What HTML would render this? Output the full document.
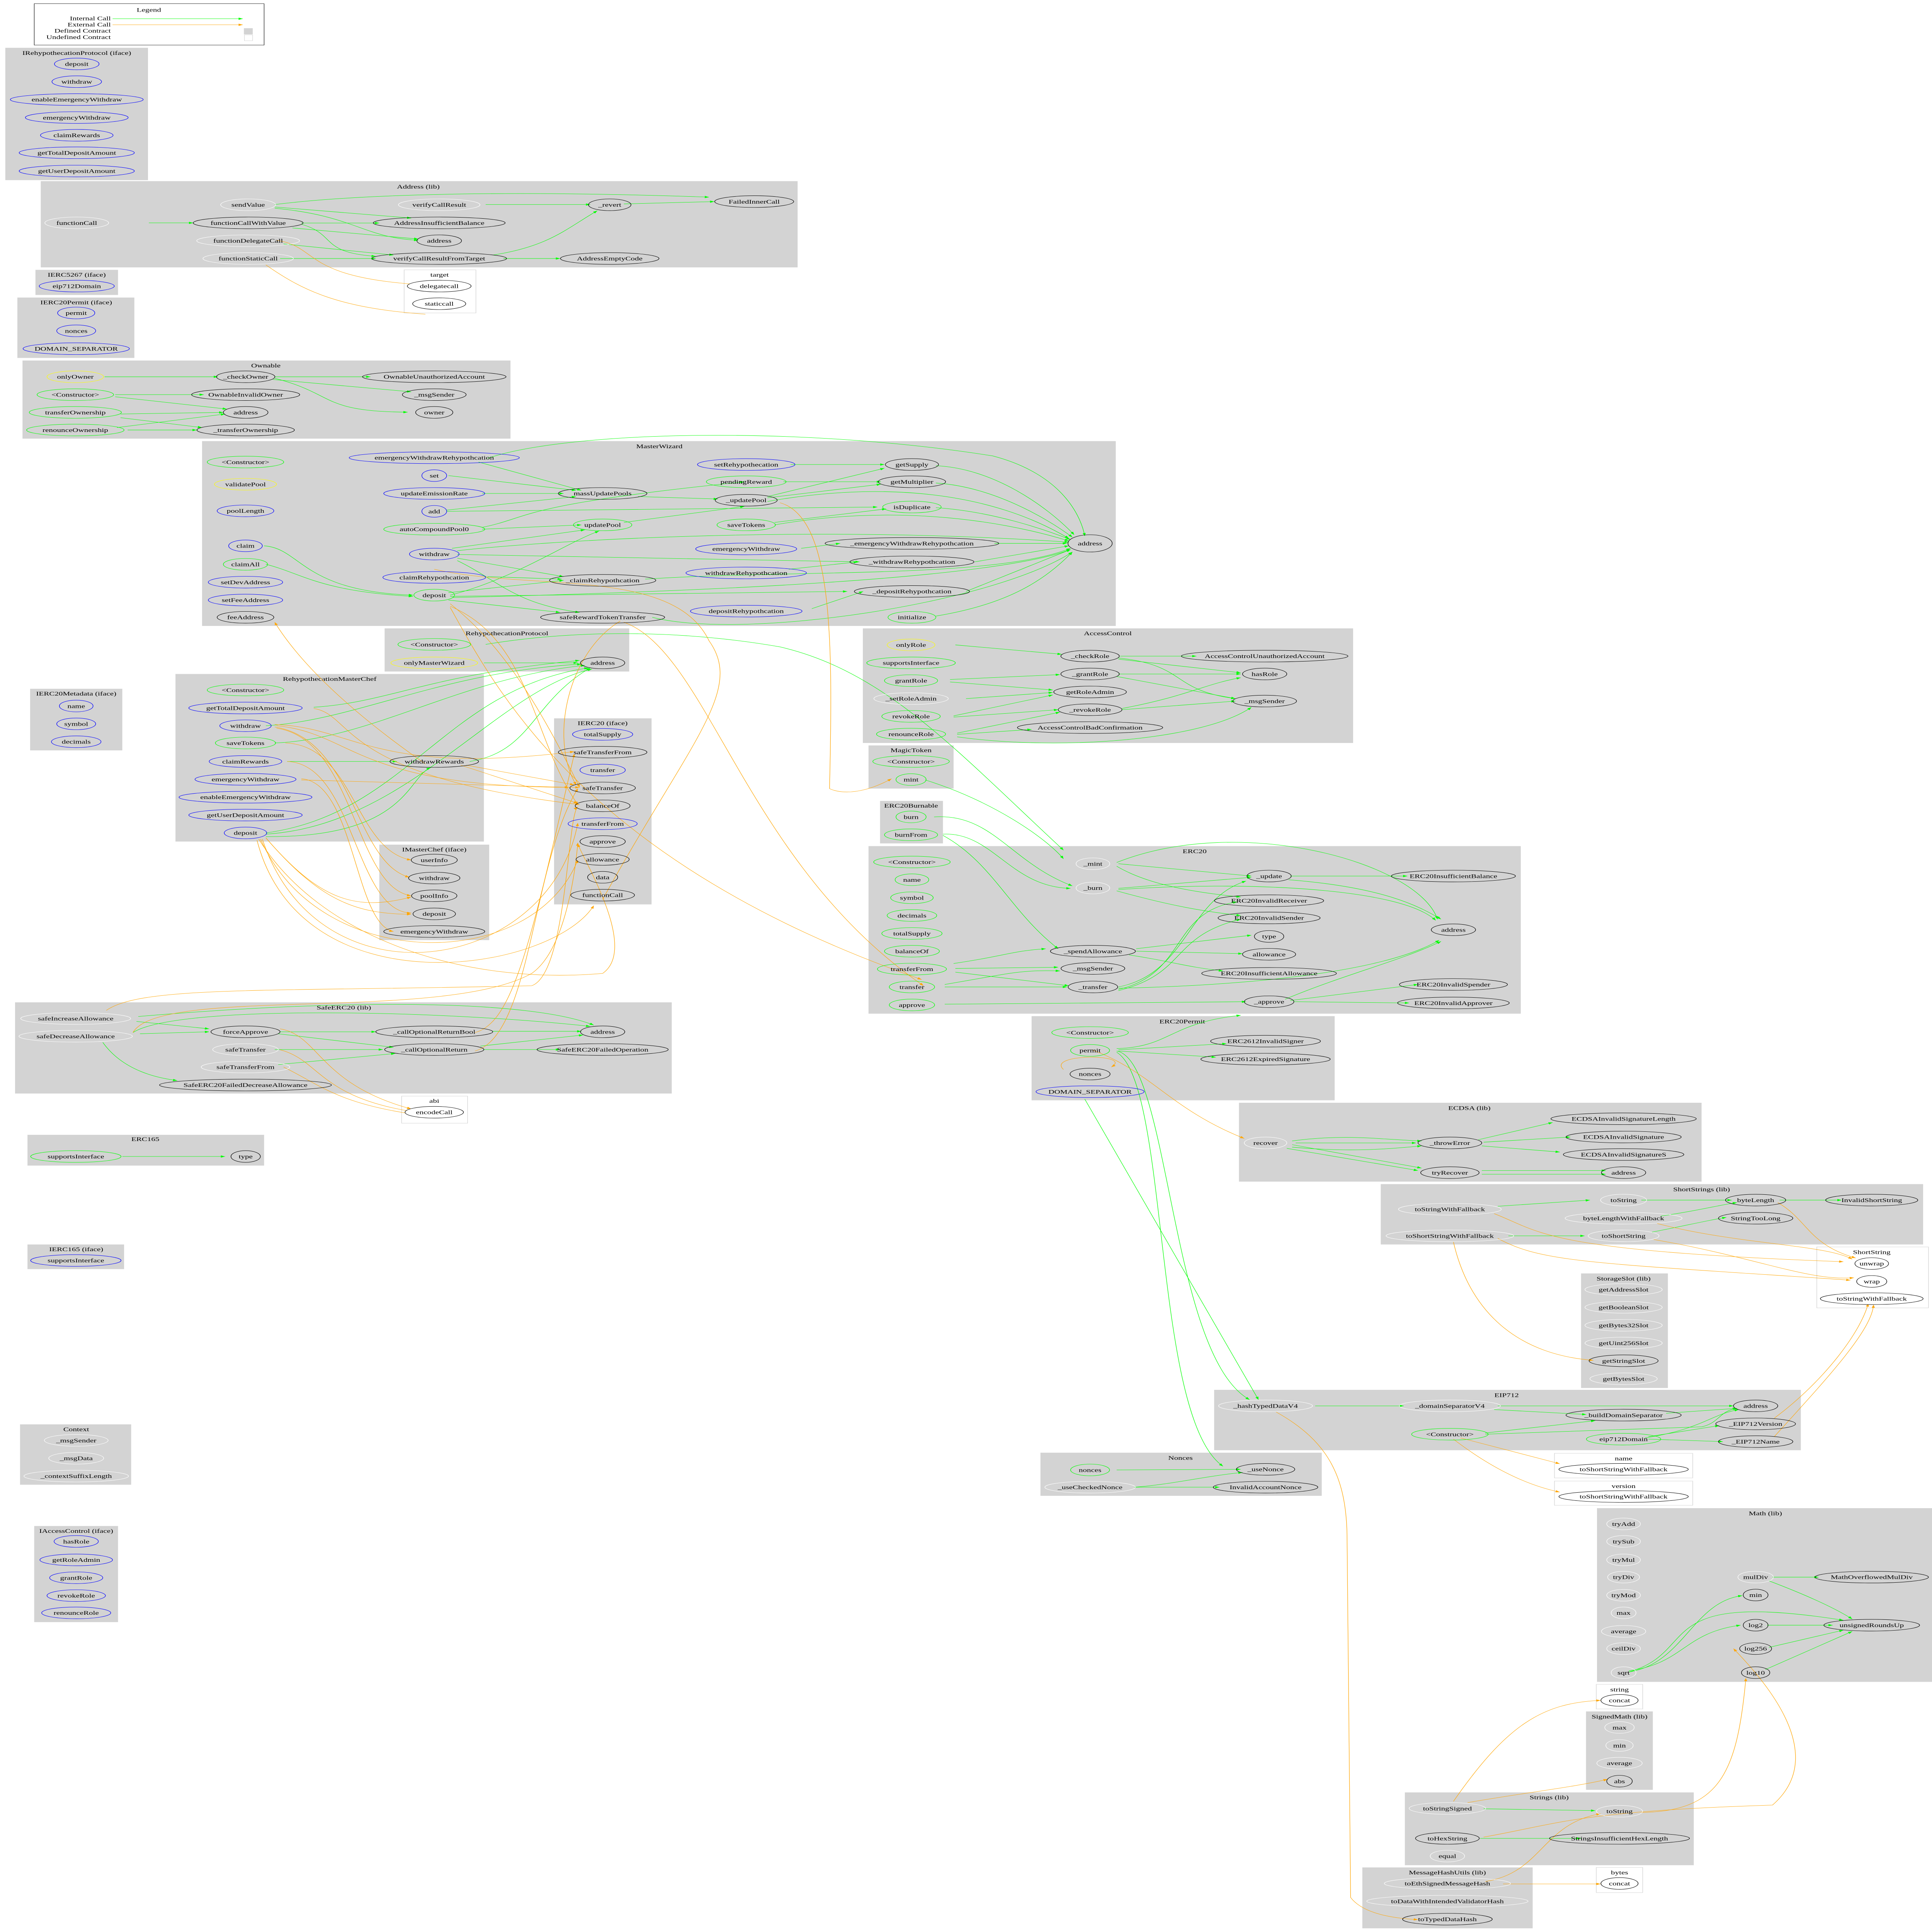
<!DOCTYPE html>
<html><head><meta charset="utf-8"><style>
html,body{margin:0;padding:0;background:#fff;width:100%;height:100%;overflow:hidden}
svg{display:block;position:fixed;left:0;top:0;width:100vw;height:100vh}
text{font-family:"Liberation Serif","DejaVu Serif",serif;font-size:4.6px;text-anchor:middle;fill:#000}
ellipse{stroke-width:.3;fill:none}
.k{stroke:#000}.b{stroke:#00f}.g{stroke:#0f0}.y{stroke:#ff0}.w{stroke:#fff}
.kw{stroke:#000;fill:#fff}
.cl{fill:#d3d3d3}
.uc{fill:#fff;stroke:#d3d3d3;stroke-width:.3}
path{fill:none;stroke-width:.28}
.eg{stroke:#0f0}.eo{stroke:#ffa500}
</style></head><body>
<svg viewBox="0 0 1090 1568" preserveAspectRatio="none" xmlns="http://www.w3.org/2000/svg">
<defs>
<marker id="ag" markerUnits="userSpaceOnUse" markerWidth="2.4" markerHeight="1.8" refX="2.4" refY=".9" orient="auto"><path d="M0,0L2.4,.9L0,1.8z" style="fill:#0f0;stroke:none"/></marker>
<marker id="ao" markerUnits="userSpaceOnUse" markerWidth="2.4" markerHeight="1.8" refX="2.4" refY=".9" orient="auto"><path d="M0,0L2.4,.9L0,1.8z" style="fill:#ffa500;stroke:none"/></marker>
</defs>
<rect width="1090" height="1568" fill="#fff"/>

<rect x="19.3" y="3" width="129.7" height="33.6" fill="#fff" stroke="#000" stroke-width=".25"/>
<text x="84" y="9.5">Legend</text>
<text x="62.5" y="16.5" style="text-anchor:end">Internal Call</text>
<text x="62.5" y="21.5" style="text-anchor:end">External Call</text>
<text x="62.5" y="26.5" style="text-anchor:end">Defined Contract</text>
<text x="62.5" y="31.7" style="text-anchor:end">Undefined Contract</text>
<path class="eg" d="M63.5,15.2L137,15.2" marker-end="url(#ag)"/>
<path class="eo" d="M63.5,20.1L137,20.1" marker-end="url(#ao)"/>
<rect x="137.6" y="22.9" width="5" height="5" fill="#d3d3d3"/>
<rect x="137.9" y="28.3" width="4.6" height="4.8" fill="#fff" stroke="#d3d3d3" stroke-width=".25"/>

<rect class="cl" x="3" y="38.8" width="80.5" height="107.4"/><text x="43.3" y="44.5">IRehypothecationProtocol  (iface)</text>
<rect class="cl" x="23" y="147" width="427" height="70"/><text x="236" y="153">Address  (lib)</text>
<rect class="uc" x="228" y="219" width="40.5" height="35"/><text x="248" y="224.5">target</text>
<rect class="cl" x="20" y="219" width="46.6" height="20.4"/><text x="43.3" y="224.5">IERC5267  (iface)</text>
<rect class="cl" x="9.8" y="241.5" width="66" height="49"/><text x="43" y="247">IERC20Permit  (iface)</text>
<rect class="cl" x="12.7" y="292.6" width="275.3" height="63.4"/><text x="150" y="298.3">Ownable</text>
<rect class="cl" x="114" y="358" width="515.5" height="150"/><text x="372" y="363.8">MasterWizard</text>
<rect class="cl" x="217" y="510" width="138" height="35"/><text x="286" y="515.5">RehypothecationProtocol</text>
<rect class="cl" x="486.8" y="510" width="276.6" height="93"/><text x="625" y="515.5">AccessControl</text>
<rect class="cl" x="17" y="559" width="52" height="50"/><text x="43" y="564.5">IERC20Metadata  (iface)</text>
<rect class="cl" x="99" y="547" width="174" height="136"/><text x="186" y="552.5">RehypothecationMasterChef</text>
<rect class="cl" x="312.6" y="583" width="55" height="151"/><text x="340" y="588.5">IERC20  (iface)</text>
<rect class="cl" x="490" y="605" width="48" height="35"/><text x="514" y="610.5">MagicToken</text>
<rect class="cl" x="496.5" y="650" width="35.5" height="34.5"/><text x="514" y="655.5">ERC20Burnable</text>
<rect class="cl" x="214" y="685.5" width="62" height="77.5"/><text x="245" y="691">IMasterChef  (iface)</text>
<rect class="cl" x="490" y="686.7" width="368" height="136"/><text x="674" y="692.5">ERC20</text>
<rect class="cl" x="8.5" y="813.5" width="370.5" height="74"/><text x="194" y="819.3">SafeERC20  (lib)</text>
<rect class="uc" x="226.6" y="889.6" width="37.2" height="22"/><text x="245" y="895">abi</text>
<rect class="cl" x="582" y="824.7" width="171" height="68.3"/><text x="667" y="830.5">ERC20Permit</text>
<rect class="cl" x="699" y="895" width="261" height="64"/><text x="829" y="900.8">ECDSA  (lib)</text>
<rect class="cl" x="15.5" y="921" width="133.5" height="25"/><text x="82" y="926">ERC165</text>
<rect class="cl" x="779" y="961" width="306" height="49"/><text x="960" y="966.8">ShortStrings  (lib)</text>
<rect class="uc" x="1025" y="1012" width="63" height="49.5"/><text x="1056" y="1017.8">ShortString</text>
<rect class="cl" x="15.5" y="1010" width="54.5" height="20"/><text x="43" y="1015.5">IERC165  (iface)</text>
<rect class="cl" x="892" y="1033.5" width="49" height="93"/><text x="916" y="1039.3">StorageSlot  (lib)</text>
<rect class="cl" x="685" y="1128" width="331" height="49"/><text x="850" y="1133.8">EIP712</text>
<rect class="cl" x="587" y="1179" width="158.7" height="35"/><text x="666" y="1184.8">Nonces</text>
<rect class="uc" x="877" y="1179.5" width="78" height="20"/><text x="916" y="1185.3">name</text>
<rect class="uc" x="877" y="1202" width="78" height="19.7"/><text x="916" y="1207.6">version</text>
<rect class="cl" x="11.3" y="1156" width="62.7" height="49"/><text x="43" y="1161.5">Context</text>
<rect class="cl" x="19.3" y="1238.5" width="47.3" height="78"/><text x="43" y="1244">IAccessControl  (iface)</text>
<rect class="cl" x="901" y="1224" width="189" height="141"/><text x="996" y="1229.8">Math  (lib)</text>
<rect class="uc" x="900.6" y="1367" width="26.2" height="20"/><text x="913.7" y="1372.8">string</text>
<rect class="cl" x="894.8" y="1389" width="37.7" height="63.6"/><text x="913.7" y="1394.8">SignedMath  (lib)</text>
<rect class="cl" x="792.6" y="1454.7" width="163" height="59.1"/><text x="874" y="1460.3">Strings  (lib)</text>
<rect class="cl" x="768.6" y="1515.6" width="96.1" height="49.4"/><text x="816.6" y="1521.3">MessageHashUtils  (lib)</text>
<rect class="uc" x="900.6" y="1515.6" width="26.2" height="20.4"/><text x="913.7" y="1521.3">bytes</text>

<g class="eg">
<path d="M84,180.9L109,180.9" marker-end="url(#ag)"/>
<path d="M155,166C200,158 280,154 400,160" marker-end="url(#ag)"/>
<path d="M155,168L232,177" marker-end="url(#ag)"/>
<path d="M155,169C200,175 205,193 236,195" marker-end="url(#ag)"/>
<path d="M170,181L214,181" marker-end="url(#ag)"/>
<path d="M165,185L236,194" marker-end="url(#ag)"/>
<path d="M170,182C190,190 180,205 212,208" marker-end="url(#ag)"/>
<path d="M160,198L222,207" marker-end="url(#ag)"/>
<path d="M158,209.8L212,209.8" marker-end="url(#ag)"/>
<path d="M274,166L333,166" marker-end="url(#ag)"/>
<path d="M278,207C310,200 320,185 337,171" marker-end="url(#ag)"/>
<path d="M284,209.8L316,209.8" marker-end="url(#ag)"/>
<path d="M352,165.5L403,163.6" marker-end="url(#ag)"/>
<path d="M59,305.8L123,305.8" marker-end="url(#ag)"/>
<path d="M155,305.8L209,305.8" marker-end="url(#ag)"/>
<path d="M154,308L232,318" marker-end="url(#ag)"/>
<path d="M155,307C190,320 180,334 230,334.5" marker-end="url(#ag)"/>
<path d="M65,320.3L115,320.3" marker-end="url(#ag)"/>
<path d="M65,322L128,332" marker-end="url(#ag)"/>
<path d="M68,336L126,334.7" marker-end="url(#ag)"/>
<path d="M68,339L114,347" marker-end="url(#ag)"/>
<path d="M72,349L111,349" marker-end="url(#ag)"/>
<path d="M66,347L127,336" marker-end="url(#ag)"/>
<path d="M275,372C320,350 450,345 560,370C600,385 610,420 612,435" marker-end="url(#ag)"/>
<path d="M270,375L328,398" marker-end="url(#ag)"/>
<path d="M253,386L325,398" marker-end="url(#ag)"/>
<path d="M272,400.5L318,400.5" marker-end="url(#ag)"/>
<path d="M252,414L325,403" marker-end="url(#ag)"/>
<path d="M360,403L405,405" marker-end="url(#ag)"/>
<path d="M252,415L495,411.5" marker-end="url(#ag)"/>
<path d="M272,428C300,420 290,410 420,391" marker-end="url(#ag)"/>
<path d="M272,429.5L328,426" marker-end="url(#ag)"/>
<path d="M352,424L420,411" marker-end="url(#ag)"/>
<path d="M446,377L499,377" marker-end="url(#ag)"/>
<path d="M442,391L497,391" marker-end="url(#ag)"/>
<path d="M433,403L499,380" marker-end="url(#ag)"/>
<path d="M433,404L497,393" marker-end="url(#ag)"/>
<path d="M437,424L500,413" marker-end="url(#ag)"/>
<path d="M528,378C560,380 590,410 606,434" marker-end="url(#ag)"/>
<path d="M528,392C560,395 590,420 605,436" marker-end="url(#ag)"/>
<path d="M528,412C560,415 590,430 604,438" marker-end="url(#ag)"/>
<path d="M433,407C500,390 560,400 603,437" marker-end="url(#ag)"/>
<path d="M437,426C500,410 560,420 603,439" marker-end="url(#ag)"/>
<path d="M561,441L602,441" marker-end="url(#ag)"/>
<path d="M550,456L603,443" marker-end="url(#ag)"/>
<path d="M545,480L604,446" marker-end="url(#ag)"/>
<path d="M528,500C570,490 590,470 605,448" marker-end="url(#ag)"/>
<path d="M452,445L474,441" marker-end="url(#ag)"/>
<path d="M445,462L484,456" marker-end="url(#ag)"/>
<path d="M458,494L487,480" marker-end="url(#ag)"/>
<path d="M258,447C300,440 450,425 603,440" marker-end="url(#ag)"/>
<path d="M258,450L485,456" marker-end="url(#ag)"/>
<path d="M258,453L318,468" marker-end="url(#ag)"/>
<path d="M255,445L330,430" marker-end="url(#ag)"/>
<path d="M258,455C280,470 290,490 327,497" marker-end="url(#ag)"/>
<path d="M275,468L317,470" marker-end="url(#ag)"/>
<path d="M364,470C450,462 560,470 604,445" marker-end="url(#ag)"/>
<path d="M149,443C170,445 170,480 233,483" marker-end="url(#ag)"/>
<path d="M150,458C170,465 180,480 233,484" marker-end="url(#ag)"/>
<path d="M253,481L318,471" marker-end="url(#ag)"/>
<path d="M254,483C290,470 320,440 338,431" marker-end="url(#ag)"/>
<path d="M254,484L478,480" marker-end="url(#ag)"/>
<path d="M255,485C400,480 560,470 604,446" marker-end="url(#ag)"/>
<path d="M253,487L316,497" marker-end="url(#ag)"/>
<path d="M368,501C420,520 560,490 605,448" marker-end="url(#ag)"/>
<path d="M274,523C320,512 380,510 440,525C500,545 540,610 600,690" marker-end="url(#ag)"/>
<path d="M273,538L326,538" marker-end="url(#ag)"/>
<path d="M177,574C220,570 240,548 327,536" marker-end="url(#ag)"/>
<path d="M150,589C200,585 250,545 328,539" marker-end="url(#ag)"/>
<path d="M155,603C210,600 260,550 330,540" marker-end="url(#ag)"/>
<path d="M162,618L224,618" marker-end="url(#ag)"/>
<path d="M265,618C300,610 300,570 333,542" marker-end="url(#ag)"/>
<path d="M150,676C230,660 250,560 332,542" marker-end="url(#ag)"/>
<path d="M150,677C230,670 280,560 334,543" marker-end="url(#ag)"/>
<path d="M150,679C230,680 230,630 243,623" marker-end="url(#ag)"/>
<path d="M539,523.4L599,531" marker-end="url(#ag)"/>
<path d="M632,532.5L675,532.5" marker-end="url(#ag)"/>
<path d="M631,535L700,546" marker-end="url(#ag)"/>
<path d="M631,534C670,540 660,560 697,567" marker-end="url(#ag)"/>
<path d="M536,551.5L598,547.5" marker-end="url(#ag)"/>
<path d="M536,553.5L594,560" marker-end="url(#ag)"/>
<path d="M631,547L700,547" marker-end="url(#ag)"/>
<path d="M630,549L697,567" marker-end="url(#ag)"/>
<path d="M545,567L594,562" marker-end="url(#ag)"/>
<path d="M538,581L594,564" marker-end="url(#ag)"/>
<path d="M538,582L597,576" marker-end="url(#ag)"/>
<path d="M633,576L697,569" marker-end="url(#ag)"/>
<path d="M633,575C670,565 680,555 700,550" marker-end="url(#ag)"/>
<path d="M540,595L598,578" marker-end="url(#ag)"/>
<path d="M540,596L582,592" marker-end="url(#ag)"/>
<path d="M540,598C600,610 680,600 706,574" marker-end="url(#ag)"/>
<path d="M522,633C560,650 590,680 600,697" marker-end="url(#ag)"/>
<path d="M527,663C560,660 570,700 605,719" marker-end="url(#ag)"/>
<path d="M532,677C560,675 570,720 604,721" marker-end="url(#ag)"/>
<path d="M532,678C560,700 570,740 597,770" marker-end="url(#ag)"/>
<path d="M631,701L706,711" marker-end="url(#ag)"/>
<path d="M630,703C650,720 680,725 700,728" marker-end="url(#ag)"/>
<path d="M630,700C700,660 800,700 811,746" marker-end="url(#ag)"/>
<path d="M631,721L706,712" marker-end="url(#ag)"/>
<path d="M630,723C660,735 680,740 700,743" marker-end="url(#ag)"/>
<path d="M631,722C700,715 790,720 810,747" marker-end="url(#ag)"/>
<path d="M728,711L794,711" marker-end="url(#ag)"/>
<path d="M727,714C780,720 800,735 813,746" marker-end="url(#ag)"/>
<path d="M641,770L706,759" marker-end="url(#ag)"/>
<path d="M641,772L701,774" marker-end="url(#ag)"/>
<path d="M637,775C660,780 670,785 690,788" marker-end="url(#ag)"/>
<path d="M538,782C570,775 570,772 590,770" marker-end="url(#ag)"/>
<path d="M539,786L597,785" marker-end="url(#ag)"/>
<path d="M539,789L603,800" marker-end="url(#ag)"/>
<path d="M533,799C570,790 575,787 598,788" marker-end="url(#ag)"/>
<path d="M533,801L602,801" marker-end="url(#ag)"/>
<path d="M631,802C700,800 780,790 812,763" marker-end="url(#ag)"/>
<path d="M631,801C670,790 670,730 703,715" marker-end="url(#ag)"/>
<path d="M631,803C670,790 660,740 698,732" marker-end="url(#ag)"/>
<path d="M631,804C670,790 660,760 700,746" marker-end="url(#ag)"/>
<path d="M533,815L703,813" marker-end="url(#ag)"/>
<path d="M728,812L800,799" marker-end="url(#ag)"/>
<path d="M730,813L795,814" marker-end="url(#ag)"/>
<path d="M725,811C760,790 790,780 813,764" marker-end="url(#ag)"/>
<path d="M78,825C200,810 300,812 335,832" marker-end="url(#ag)"/>
<path d="M77,829L118,835" marker-end="url(#ag)"/>
<path d="M79,839L118,837.4" marker-end="url(#ag)"/>
<path d="M75,838C100,815 250,820 333,833" marker-end="url(#ag)"/>
<path d="M58,846C70,870 90,875 100,877" marker-end="url(#ag)"/>
<path d="M158,837.4L212,837.4" marker-end="url(#ag)"/>
<path d="M157,839L222,850" marker-end="url(#ag)"/>
<path d="M155,851.8L216,851.8" marker-end="url(#ag)"/>
<path d="M157,864L223,855" marker-end="url(#ag)"/>
<path d="M278,837L328,837" marker-end="url(#ag)"/>
<path d="M271,849L329,840" marker-end="url(#ag)"/>
<path d="M273,851.8L316,851.8" marker-end="url(#ag)"/>
<path d="M631,852L692,847" marker-end="url(#ag)"/>
<path d="M631,853L686,858" marker-end="url(#ag)"/>
<path d="M630,851C660,850 660,830 700,824" marker-end="url(#ag)"/>
<path d="M630,853C660,860 660,1100 705,1136" marker-end="url(#ag)"/>
<path d="M630,854C660,880 650,1150 690,1190" marker-end="url(#ag)"/>
<path d="M612,892L710,1136" marker-end="url(#ag)"/>
<path d="M729,926C760,920 780,925 802,926" marker-end="url(#ag)"/>
<path d="M731,927.6L799,927.6" marker-end="url(#ag)"/>
<path d="M729,931C760,935 780,933 802,930" marker-end="url(#ag)"/>
<path d="M729,929L802,948" marker-end="url(#ag)"/>
<path d="M726,932L800,950" marker-end="url(#ag)"/>
<path d="M834,925L876,911" marker-end="url(#ag)"/>
<path d="M837,927L886,922.8" marker-end="url(#ag)"/>
<path d="M836,930L880,935" marker-end="url(#ag)"/>
<path d="M836,950L906,950" marker-end="url(#ag)"/>
<path d="M836,953L906,953" marker-end="url(#ag)"/>
<path d="M845,979L897,974" marker-end="url(#ag)"/>
<path d="M926,974L977,974" marker-end="url(#ag)"/>
<path d="M1004,974L1039,974" marker-end="url(#ag)"/>
<path d="M937,987C960,982 970,978 980,976" marker-end="url(#ag)"/>
<path d="M851,1003L894,1003" marker-end="url(#ag)"/>
<path d="M932,1000C950,995 965,990 974,988" marker-end="url(#ag)"/>
<path d="M69,938.6L127,938.6" marker-end="url(#ag)"/>
<path d="M742,1141L792,1141" marker-end="url(#ag)"/>
<path d="M845,1141L978,1141" marker-end="url(#ag)"/>
<path d="M843,1144L895,1148" marker-end="url(#ag)"/>
<path d="M940,1147L980,1143" marker-end="url(#ag)"/>
<path d="M838,1163L900,1153" marker-end="url(#ag)"/>
<path d="M838,1164L960,1158C970,1155 970,1145 980,1143" marker-end="url(#ag)"/>
<path d="M930,1166L970,1157" marker-end="url(#ag)"/>
<path d="M930,1168L972,1170" marker-end="url(#ag)"/>
<path d="M928,1167C960,1160 965,1148 981,1144" marker-end="url(#ag)"/>
<path d="M630,1193L700,1192.5" marker-end="url(#ag)"/>
<path d="M640,1207C660,1205 680,1198 701,1195" marker-end="url(#ag)"/>
<path d="M640,1207L688,1207" marker-end="url(#ag)"/>
<path d="M1000,1280L1026,1280" marker-end="url(#ag)"/>
<path d="M998,1283C1020,1295 1035,1305 1045,1314" marker-end="url(#ag)"/>
<path d="M919,1357C950,1350 955,1300 983,1295" marker-end="url(#ag)"/>
<path d="M919,1356C950,1350 950,1325 982,1319" marker-end="url(#ag)"/>
<path d="M919,1357C960,1340 930,1290 1040,1315" marker-end="url(#ag)"/>
<path d="M997,1319L1034,1319" marker-end="url(#ag)"/>
<path d="M998,1337L1040,1323" marker-end="url(#ag)"/>
<path d="M996,1355L1045,1324" marker-end="url(#ag)"/>
<path d="M837,1468L900,1469.5" marker-end="url(#ag)"/>
<path d="M835,1492L892,1492" marker-end="url(#ag)"/>
</g>
<g class="eo">
<path d="M156,195C180,200 170,225 237,231" marker-end="url(#ao)"/>
<path d="M150,215C170,235 190,250 240,255"/>
<path d="M245,462C300,480 380,460 400,520C420,560 390,600 340,730"/>
<path d="M440,408C470,420 470,520 468,640C468,640 480,650 503,632" marker-end="url(#ao)"/>
<path d="M254,490C280,520 300,560 327,639" marker-end="url(#ao)"/>
<path d="M254,492C300,520 300,600 326,653" marker-end="url(#ao)"/>
<path d="M254,493C280,560 330,700 520,795" marker-end="url(#ao)"/>
<path d="M352,505C400,530 420,700 521,800" marker-end="url(#ao)"/>
<path d="M350,504C320,530 310,600 325,637" marker-end="url(#ao)"/>
<path d="M240,620C200,580 170,540 155,505" marker-end="url(#ao)"/>
<path d="M177,575C200,580 190,630 327,653" marker-end="url(#ao)"/>
<path d="M155,588C200,590 210,630 324,610" marker-end="url(#ao)"/>
<path d="M156,589C200,595 200,640 327,639" marker-end="url(#ao)"/>
<path d="M155,590C200,600 200,700 231,712" marker-end="url(#ao)"/>
<path d="M156,591C200,600 200,720 232,727" marker-end="url(#ao)"/>
<path d="M161,603C200,605 200,690 232,698" marker-end="url(#ao)"/>
<path d="M162,618C200,620 200,740 232,741" marker-end="url(#ao)"/>
<path d="M170,633L321,639" marker-end="url(#ao)"/>
<path d="M170,632C200,635 200,750 222,756" marker-end="url(#ao)"/>
<path d="M263,621L324,637" marker-end="url(#ao)"/>
<path d="M260,621L326,652" marker-end="url(#ao)"/>
<path d="M150,680C180,730 200,740 232,728" marker-end="url(#ao)"/>
<path d="M150,680C180,730 200,742 232,742" marker-end="url(#ao)"/>
<path d="M146,681C180,760 260,800 340,790C360,770 330,700 326,685" marker-end="url(#ao)"/>
<path d="M147,681C180,790 300,790 326,698" marker-end="url(#ao)"/>
<path d="M148,681C180,820 310,790 326,668" marker-end="url(#ao)"/>
<path d="M145,682C170,820 310,790 335,735" marker-end="url(#ao)"/>
<path d="M60,820C80,800 150,805 300,800C320,790 320,660 326,655" marker-end="url(#ao)"/>
<path d="M75,838C90,800 250,830 300,790C320,770 325,700 326,684" marker-end="url(#ao)"/>
<path d="M158,835C180,840 180,880 232,900" marker-end="url(#ao)"/>
<path d="M158,852C180,860 180,890 232,902" marker-end="url(#ao)"/>
<path d="M160,866C180,880 190,895 232,904" marker-end="url(#ao)"/>
<path d="M268,838C290,830 300,760 324,612" marker-end="url(#ao)"/>
<path d="M268,853C300,840 300,700 326,640" marker-end="url(#ao)"/>
<path d="M616,852C650,870 660,900 702,924" marker-end="url(#ao)"/>
<path d="M600,868C590,855 640,855 627,866" marker-end="url(#ao)"/>
<path d="M843,985C870,1000 870,1015 1040,1024" marker-end="url(#ao)"/>
<path d="M845,1005C870,1025 900,1025 1044,1039" marker-end="url(#ao)"/>
<path d="M935,993C980,1010 1030,1010 1045,1022" marker-end="url(#ao)"/>
<path d="M933,1006C990,1020 1020,1040 1046,1037" marker-end="url(#ao)"/>
<path d="M1003,976C1020,990 1020,1010 1047,1021" marker-end="url(#ao)"/>
<path d="M820,1008C830,1070 860,1100 899,1104" marker-end="url(#ao)"/>
<path d="M1001,1151C1030,1120 1050,1080 1054,1058" marker-end="url(#ao)"/>
<path d="M1001,1166C1030,1120 1056,1080 1057,1059" marker-end="url(#ao)"/>
<path d="M824,1167L880,1188" marker-end="url(#ao)"/>
<path d="M820,1168C840,1190 860,1205 880,1211" marker-end="url(#ao)"/>
<path d="M720,1146C750,1170 760,1200 760,1250L762,1540C770,1555 790,1557 800,1558" marker-end="url(#ao)"/>
<path d="M820,1462C850,1400 870,1382 903,1380" marker-end="url(#ao)"/>
<path d="M828,1463C860,1455 890,1450 907,1444" marker-end="url(#ao)"/>
<path d="M926,1471C970,1470 980,1440 985,1362" marker-end="url(#ao)"/>
<path d="M837,1491C880,1480 890,1470 1000,1465C1020,1440 1020,1400 978,1338" marker-end="url(#ao)"/>
<path d="M838,1527C870,1520 870,1480 903,1472" marker-end="url(#ao)"/>
<path d="M848,1529L903,1529" marker-end="url(#ao)"/>
</g>

<g>
<ellipse class="b" cx="43.3" cy="51.9" rx="12.6" ry="4.75"/><text x="43.3" y="53.5">deposit</text>
<ellipse class="b" cx="43.3" cy="66.3" rx="14" ry="4.75"/><text x="43.3" y="67.9">withdraw</text>
<ellipse class="b" cx="43.3" cy="80.8" rx="37.5" ry="4.75"/><text x="43.3" y="82.4">enableEmergencyWithdraw</text>
<ellipse class="b" cx="43.3" cy="95.4" rx="29" ry="4.75"/><text x="43.3" y="97">emergencyWithdraw</text>
<ellipse class="b" cx="43.3" cy="109.8" rx="20.5" ry="4.75"/><text x="43.3" y="111.4">claimRewards</text>
<ellipse class="b" cx="43.3" cy="124" rx="32.5" ry="4.75"/><text x="43.3" y="125.6">getTotalDepositAmount</text>
<ellipse class="b" cx="43.3" cy="138.8" rx="32.5" ry="4.75"/><text x="43.3" y="140.4">getUserDepositAmount</text>
<ellipse class="w" cx="43.3" cy="180.9" rx="18" ry="4.75"/><text x="43.3" y="182.5">functionCall</text>
<ellipse class="w" cx="140" cy="166.2" rx="15.5" ry="4.75"/><text x="140" y="167.8">sendValue</text>
<ellipse class="k" cx="140" cy="180.9" rx="31" ry="4.75"/><text x="140" y="182.5">functionCallWithValue</text>
<ellipse class="w" cx="140" cy="195.4" rx="29" ry="4.75"/><text x="140" y="197">functionDelegateCall</text>
<ellipse class="w" cx="140" cy="209.8" rx="25.5" ry="4.75"/><text x="140" y="211.4">functionStaticCall</text>
<ellipse class="w" cx="247.8" cy="166.2" rx="23" ry="4.75"/><text x="247.8" y="167.8">verifyCallResult</text>
<ellipse class="k" cx="247.8" cy="180.9" rx="37.2" ry="4.75"/><text x="247.8" y="182.5">AddressInsufficientBalance</text>
<ellipse class="k" cx="247.8" cy="195.4" rx="12.6" ry="4.75"/><text x="247.8" y="197">address</text>
<ellipse class="k" cx="247.8" cy="209.8" rx="38" ry="4.75"/><text x="247.8" y="211.4">verifyCallResultFromTarget</text>
<ellipse class="k" cx="344" cy="166.2" rx="12" ry="4.75"/><text x="344" y="167.8">_revert</text>
<ellipse class="k" cx="425.5" cy="163.6" rx="22.3" ry="4.75"/><text x="425.5" y="165.2">FailedInnerCall</text>
<ellipse class="k" cx="344" cy="209.8" rx="27.8" ry="4.75"/><text x="344" y="211.4">AddressEmptyCode</text>
<ellipse class="kw" cx="247.8" cy="232.2" rx="18" ry="4.75"/><text x="247.8" y="233.8">delegatecall</text>
<ellipse class="kw" cx="247.8" cy="246.5" rx="15" ry="4.75"/><text x="247.8" y="248.1">staticcall</text>
<ellipse class="b" cx="43.3" cy="232.2" rx="21.2" ry="4.75"/><text x="43.3" y="233.8">eip712Domain</text>
<ellipse class="b" cx="43" cy="254" rx="10.5" ry="4.75"/><text x="43" y="255.6">permit</text>
<ellipse class="b" cx="43" cy="268.5" rx="11" ry="4.75"/><text x="43" y="270.1">nonces</text>
<ellipse class="b" cx="43" cy="283" rx="30" ry="4.75"/><text x="43" y="284.6">DOMAIN_SEPARATOR</text>
<ellipse class="y" cx="42.5" cy="305.8" rx="16" ry="4.75"/><text x="42.5" y="307.4">onlyOwner</text>
<ellipse class="g" cx="42.5" cy="320.3" rx="21.6" ry="4.75"/><text x="42.5" y="321.9">&lt;Constructor&gt;</text>
<ellipse class="g" cx="42.5" cy="334.7" rx="26" ry="4.75"/><text x="42.5" y="336.3">transferOwnership</text>
<ellipse class="g" cx="42.5" cy="349" rx="27.5" ry="4.75"/><text x="42.5" y="350.6">renounceOwnership</text>
<ellipse class="k" cx="138.6" cy="305.8" rx="16.5" ry="4.75"/><text x="138.6" y="307.4">_checkOwner</text>
<ellipse class="k" cx="138.6" cy="320.3" rx="30.5" ry="4.75"/><text x="138.6" y="321.9">OwnableInvalidOwner</text>
<ellipse class="k" cx="138.6" cy="334.7" rx="12.6" ry="4.75"/><text x="138.6" y="336.3">address</text>
<ellipse class="k" cx="138.6" cy="349" rx="27.5" ry="4.75"/><text x="138.6" y="350.6">_transferOwnership</text>
<ellipse class="k" cx="245" cy="305.8" rx="40.5" ry="4.75"/><text x="245" y="307.4">OwnableUnauthorizedAccount</text>
<ellipse class="k" cx="245" cy="320.3" rx="18" ry="4.75"/><text x="245" y="321.9">_msgSender</text>
<ellipse class="k" cx="245" cy="334.7" rx="10.5" ry="4.75"/><text x="245" y="336.3">owner</text>
<ellipse class="g" cx="138.5" cy="375" rx="21.6" ry="4.75"/><text x="138.5" y="376.6">&lt;Constructor&gt;</text>
<ellipse class="y" cx="138.5" cy="393" rx="17.5" ry="4.75"/><text x="138.5" y="394.6">validatePool</text>
<ellipse class="b" cx="138.5" cy="414.6" rx="16" ry="4.75"/><text x="138.5" y="416.2">poolLength</text>
<ellipse class="b" cx="138.5" cy="443" rx="9.5" ry="4.75"/><text x="138.5" y="444.6">claim</text>
<ellipse class="g" cx="138.5" cy="458" rx="12.5" ry="4.75"/><text x="138.5" y="459.6">claimAll</text>
<ellipse class="b" cx="138.5" cy="472.5" rx="21" ry="4.75"/><text x="138.5" y="474.1">setDevAddress</text>
<ellipse class="b" cx="138.5" cy="487" rx="21" ry="4.75"/><text x="138.5" y="488.6">setFeeAddress</text>
<ellipse class="k" cx="138.5" cy="501" rx="16" ry="4.75"/><text x="138.5" y="502.6">feeAddress</text>
<ellipse class="b" cx="245" cy="371.5" rx="48" ry="4.75"/><text x="245" y="373.1">emergencyWithdrawRehypothcation</text>
<ellipse class="b" cx="245" cy="386" rx="7" ry="4.75"/><text x="245" y="387.6">set</text>
<ellipse class="b" cx="245" cy="400.5" rx="28.5" ry="4.75"/><text x="245" y="402.1">updateEmissionRate</text>
<ellipse class="b" cx="245" cy="415" rx="7" ry="4.75"/><text x="245" y="416.6">add</text>
<ellipse class="g" cx="245" cy="429.5" rx="28.5" ry="4.75"/><text x="245" y="431.1">autoCompoundPool0</text>
<ellipse class="b" cx="245" cy="449.7" rx="14" ry="4.75"/><text x="245" y="451.3">withdraw</text>
<ellipse class="b" cx="245" cy="468.6" rx="29" ry="4.75"/><text x="245" y="470.2">claimRehypothcation</text>
<ellipse class="g" cx="245" cy="483" rx="11.5" ry="4.75"/><text x="245" y="484.6">deposit</text>
<ellipse class="k" cx="340" cy="400.5" rx="25" ry="4.75"/><text x="340" y="402.1">massUpdatePools</text>
<ellipse class="g" cx="340" cy="426" rx="16.5" ry="4.75"/><text x="340" y="427.6">updatePool</text>
<ellipse class="k" cx="340" cy="471" rx="30" ry="4.75"/><text x="340" y="472.6">_claimRehypothcation</text>
<ellipse class="k" cx="340" cy="501" rx="35" ry="4.75"/><text x="340" y="502.6">safeRewardTokenTransfer</text>
<ellipse class="b" cx="421" cy="377" rx="27.5" ry="4.75"/><text x="421" y="378.6">setRehypothecation</text>
<ellipse class="g" cx="421" cy="391" rx="22.5" ry="4.75"/><text x="421" y="392.6">pendingReward</text>
<ellipse class="k" cx="421" cy="406" rx="17.5" ry="4.75"/><text x="421" y="407.6">_updatePool</text>
<ellipse class="g" cx="421" cy="426" rx="16.5" ry="4.75"/><text x="421" y="427.6">saveTokens</text>
<ellipse class="b" cx="421" cy="445.5" rx="28.5" ry="4.75"/><text x="421" y="447.1">emergencyWithdraw</text>
<ellipse class="b" cx="421" cy="465" rx="34" ry="4.75"/><text x="421" y="466.6">withdrawRehypothcation</text>
<ellipse class="b" cx="421" cy="496" rx="31.5" ry="4.75"/><text x="421" y="497.6">depositRehypothcation</text>
<ellipse class="k" cx="514.5" cy="377" rx="15" ry="4.75"/><text x="514.5" y="378.6">getSupply</text>
<ellipse class="k" cx="514.5" cy="391" rx="19" ry="4.75"/><text x="514.5" y="392.6">getMultiplier</text>
<ellipse class="g" cx="514.5" cy="411.5" rx="16.5" ry="4.75"/><text x="514.5" y="413.1">isDuplicate</text>
<ellipse class="k" cx="514.5" cy="441" rx="49" ry="4.75"/><text x="514.5" y="442.6">_emergencyWithdrawRehypothcation</text>
<ellipse class="k" cx="514.5" cy="456" rx="35" ry="4.75"/><text x="514.5" y="457.6">_withdrawRehypothcation</text>
<ellipse class="k" cx="514.5" cy="480" rx="32.5" ry="4.75"/><text x="514.5" y="481.6">_depositRehypothcation</text>
<ellipse class="g" cx="514.5" cy="501" rx="13.5" ry="4.75"/><text x="514.5" y="502.6">initialize</text>
<ellipse class="k" cx="615" cy="441" rx="12.5" ry="7"/><text x="615" y="442.6">address</text>
<ellipse class="g" cx="245" cy="523" rx="20.5" ry="4.75"/><text x="245" y="524.6">&lt;Constructor&gt;</text>
<ellipse class="y" cx="245" cy="538" rx="24.5" ry="4.75"/><text x="245" y="539.6">onlyMasterWizard</text>
<ellipse class="k" cx="340" cy="538" rx="12.5" ry="4.75"/><text x="340" y="539.6">address</text>
<ellipse class="y" cx="514" cy="523.4" rx="13.5" ry="4.75"/><text x="514" y="525">onlyRole</text>
<ellipse class="g" cx="514" cy="538" rx="25" ry="4.75"/><text x="514" y="539.6">supportsInterface</text>
<ellipse class="g" cx="514" cy="552.4" rx="15" ry="4.75"/><text x="514" y="554">grantRole</text>
<ellipse class="w" cx="514" cy="567" rx="21" ry="4.75"/><text x="514" y="568.6">_setRoleAdmin</text>
<ellipse class="g" cx="514" cy="581.4" rx="16.5" ry="4.75"/><text x="514" y="583">revokeRole</text>
<ellipse class="g" cx="514" cy="595.8" rx="19.5" ry="4.75"/><text x="514" y="597.4">renounceRole</text>
<ellipse class="k" cx="615" cy="532.5" rx="16.5" ry="4.75"/><text x="615" y="534.1">_checkRole</text>
<ellipse class="k" cx="615" cy="547" rx="16.5" ry="4.75"/><text x="615" y="548.6">_grantRole</text>
<ellipse class="k" cx="615" cy="561.6" rx="20.5" ry="4.75"/><text x="615" y="563.2">getRoleAdmin</text>
<ellipse class="k" cx="615" cy="576" rx="18" ry="4.75"/><text x="615" y="577.6">_revokeRole</text>
<ellipse class="k" cx="615" cy="590.5" rx="41" ry="4.75"/><text x="615" y="592.1">AccessControlBadConfirmation</text>
<ellipse class="k" cx="713.5" cy="532.5" rx="47" ry="4.75"/><text x="713.5" y="534.1">AccessControlUnauthorizedAccount</text>
<ellipse class="k" cx="713.5" cy="547" rx="12.5" ry="4.75"/><text x="713.5" y="548.6">hasRole</text>
<ellipse class="k" cx="713.5" cy="569" rx="18" ry="4.75"/><text x="713.5" y="570.6">_msgSender</text>
<ellipse class="b" cx="43" cy="573" rx="9.5" ry="4.75"/><text x="43" y="574.6">name</text>
<ellipse class="b" cx="43" cy="587.5" rx="11" ry="4.75"/><text x="43" y="589.1">symbol</text>
<ellipse class="b" cx="43" cy="602" rx="14" ry="4.75"/><text x="43" y="603.6">decimals</text>
<ellipse class="g" cx="138.5" cy="560" rx="21.6" ry="4.75"/><text x="138.5" y="561.6">&lt;Constructor&gt;</text>
<ellipse class="b" cx="138.5" cy="574.6" rx="32" ry="4.75"/><text x="138.5" y="576.2">getTotalDepositAmount</text>
<ellipse class="b" cx="138.5" cy="589" rx="14.5" ry="4.75"/><text x="138.5" y="590.6">withdraw</text>
<ellipse class="g" cx="138.5" cy="603" rx="17" ry="4.75"/><text x="138.5" y="604.6">saveTokens</text>
<ellipse class="b" cx="138.5" cy="618" rx="20.5" ry="4.75"/><text x="138.5" y="619.6">claimRewards</text>
<ellipse class="b" cx="138.5" cy="632.5" rx="28.5" ry="4.75"/><text x="138.5" y="634.1">emergencyWithdraw</text>
<ellipse class="b" cx="138.5" cy="647" rx="37.5" ry="4.75"/><text x="138.5" y="648.6">enableEmergencyWithdraw</text>
<ellipse class="b" cx="138.5" cy="661.5" rx="32" ry="4.75"/><text x="138.5" y="663.1">getUserDepositAmount</text>
<ellipse class="b" cx="138.5" cy="676" rx="12" ry="4.75"/><text x="138.5" y="677.6">deposit</text>
<ellipse class="k" cx="245" cy="618" rx="25" ry="4.75"/><text x="245" y="619.6">withdrawRewards</text>
<ellipse class="b" cx="340" cy="596" rx="17" ry="4.75"/><text x="340" y="597.6">totalSupply</text>
<ellipse class="k" cx="340" cy="610.5" rx="25" ry="4.75"/><text x="340" y="612.1">safeTransferFrom</text>
<ellipse class="b" cx="340" cy="625" rx="12.8" ry="4.75"/><text x="340" y="626.6">transfer</text>
<ellipse class="k" cx="340" cy="639.5" rx="18.5" ry="4.75"/><text x="340" y="641.1">safeTransfer</text>
<ellipse class="k" cx="340" cy="654" rx="15.5" ry="4.75"/><text x="340" y="655.6">balanceOf</text>
<ellipse class="b" cx="340" cy="668.5" rx="19.5" ry="4.75"/><text x="340" y="670.1">transferFrom</text>
<ellipse class="k" cx="340" cy="683" rx="12.8" ry="4.75"/><text x="340" y="684.6">approve</text>
<ellipse class="k" cx="340" cy="697.5" rx="15" ry="4.75"/><text x="340" y="699.1">allowance</text>
<ellipse class="k" cx="340" cy="712" rx="8.5" ry="4.75"/><text x="340" y="713.6">data</text>
<ellipse class="k" cx="340" cy="726.5" rx="18" ry="4.75"/><text x="340" y="728.1">functionCall</text>
<ellipse class="g" cx="514" cy="618" rx="21.6" ry="4.75"/><text x="514" y="619.6">&lt;Constructor&gt;</text>
<ellipse class="g" cx="514" cy="632.7" rx="8.5" ry="4.75"/><text x="514" y="634.3">mint</text>
<ellipse class="g" cx="514" cy="663" rx="8.5" ry="4.75"/><text x="514" y="664.6">burn</text>
<ellipse class="g" cx="514" cy="677.5" rx="15" ry="4.75"/><text x="514" y="679.1">burnFrom</text>
<ellipse class="k" cx="245" cy="698" rx="13" ry="4.75"/><text x="245" y="699.6">userInfo</text>
<ellipse class="k" cx="245" cy="712.6" rx="14.5" ry="4.75"/><text x="245" y="714.2">withdraw</text>
<ellipse class="k" cx="245" cy="727" rx="12.8" ry="4.75"/><text x="245" y="728.6">poolInfo</text>
<ellipse class="k" cx="245" cy="741.7" rx="12" ry="4.75"/><text x="245" y="743.3">deposit</text>
<ellipse class="k" cx="245" cy="756" rx="28.5" ry="4.75"/><text x="245" y="757.6">emergencyWithdraw</text>
<ellipse class="g" cx="514.5" cy="699.6" rx="21.6" ry="4.75"/><text x="514.5" y="701.2">&lt;Constructor&gt;</text>
<ellipse class="g" cx="514.5" cy="714" rx="9.5" ry="4.75"/><text x="514.5" y="715.6">name</text>
<ellipse class="g" cx="514.5" cy="728.6" rx="12" ry="4.75"/><text x="514.5" y="730.2">symbol</text>
<ellipse class="g" cx="514.5" cy="743" rx="14" ry="4.75"/><text x="514.5" y="744.6">decimals</text>
<ellipse class="g" cx="514.5" cy="757.6" rx="17" ry="4.75"/><text x="514.5" y="759.2">totalSupply</text>
<ellipse class="g" cx="514.5" cy="772" rx="15.5" ry="4.75"/><text x="514.5" y="773.6">balanceOf</text>
<ellipse class="g" cx="514.5" cy="786.5" rx="19.5" ry="4.75"/><text x="514.5" y="788.1">transferFrom</text>
<ellipse class="g" cx="514.5" cy="801" rx="12.8" ry="4.75"/><text x="514.5" y="802.6">transfer</text>
<ellipse class="g" cx="514.5" cy="815.6" rx="12.8" ry="4.75"/><text x="514.5" y="817.2">approve</text>
<ellipse class="w" cx="616.6" cy="701" rx="9.5" ry="4.75"/><text x="616.6" y="702.6">_mint</text>
<ellipse class="w" cx="616.6" cy="720.7" rx="9.5" ry="4.75"/><text x="616.6" y="722.3">_burn</text>
<ellipse class="k" cx="616.6" cy="772" rx="24" ry="4.75"/><text x="616.6" y="773.6">_spendAllowance</text>
<ellipse class="k" cx="616.6" cy="786" rx="18" ry="4.75"/><text x="616.6" y="787.6">_msgSender</text>
<ellipse class="k" cx="616.6" cy="801" rx="14" ry="4.75"/><text x="616.6" y="802.6">_transfer</text>
<ellipse class="k" cx="716" cy="711" rx="12.5" ry="4.75"/><text x="716" y="712.6">_update</text>
<ellipse class="k" cx="716" cy="731" rx="30.8" ry="4.75"/><text x="716" y="732.6">ERC20InvalidReceiver</text>
<ellipse class="k" cx="716" cy="745" rx="28.8" ry="4.75"/><text x="716" y="746.6">ERC20InvalidSender</text>
<ellipse class="k" cx="716" cy="760" rx="8.3" ry="4.75"/><text x="716" y="761.6">type</text>
<ellipse class="k" cx="716" cy="774.5" rx="15" ry="4.75"/><text x="716" y="776.1">allowance</text>
<ellipse class="k" cx="716" cy="790" rx="38" ry="4.75"/><text x="716" y="791.6">ERC20InsufficientAllowance</text>
<ellipse class="k" cx="716" cy="813" rx="14" ry="4.75"/><text x="716" y="814.6">_approve</text>
<ellipse class="k" cx="820" cy="711" rx="35" ry="4.75"/><text x="820" y="712.6">ERC20InsufficientBalance</text>
<ellipse class="k" cx="820" cy="754.6" rx="12.5" ry="4.75"/><text x="820" y="756.2">address</text>
<ellipse class="k" cx="820" cy="799" rx="30.5" ry="4.75"/><text x="820" y="800.6">ERC20InvalidSpender</text>
<ellipse class="k" cx="820" cy="814" rx="31.5" ry="4.75"/><text x="820" y="815.6">ERC20InvalidApprover</text>
<ellipse class="w" cx="42.7" cy="826.6" rx="31" ry="4.75"/><text x="42.7" y="828.2">safeIncreaseAllowance</text>
<ellipse class="w" cx="42.7" cy="841" rx="32" ry="4.75"/><text x="42.7" y="842.6">safeDecreaseAllowance</text>
<ellipse class="k" cx="138.5" cy="837.4" rx="19.5" ry="4.75"/><text x="138.5" y="839">forceApprove</text>
<ellipse class="w" cx="138.5" cy="851.8" rx="18.5" ry="4.75"/><text x="138.5" y="853.4">safeTransfer</text>
<ellipse class="w" cx="138.5" cy="866" rx="25" ry="4.75"/><text x="138.5" y="867.6">safeTransferFrom</text>
<ellipse class="k" cx="138.5" cy="880.6" rx="48.5" ry="4.75"/><text x="138.5" y="882.2">SafeERC20FailedDecreaseAllowance</text>
<ellipse class="k" cx="245" cy="837.4" rx="33" ry="4.75"/><text x="245" y="839">_callOptionalReturnBool</text>
<ellipse class="k" cx="245" cy="851.8" rx="28" ry="4.75"/><text x="245" y="853.4">_callOptionalReturn</text>
<ellipse class="k" cx="340" cy="837.4" rx="12.5" ry="4.75"/><text x="340" y="839">address</text>
<ellipse class="k" cx="340" cy="851.8" rx="37" ry="4.75"/><text x="340" y="853.4">SafeERC20FailedOperation</text>
<ellipse class="kw" cx="245" cy="902.7" rx="16.5" ry="4.75"/><text x="245" y="904.3">encodeCall</text>
<ellipse class="g" cx="615" cy="838" rx="21.6" ry="4.75"/><text x="615" y="839.6">&lt;Constructor&gt;</text>
<ellipse class="g" cx="615" cy="852.5" rx="11" ry="4.75"/><text x="615" y="854.1">permit</text>
<ellipse class="k" cx="615" cy="871.7" rx="11.3" ry="4.75"/><text x="615" y="873.3">nonces</text>
<ellipse class="b" cx="615" cy="886" rx="30.5" ry="4.75"/><text x="615" y="887.6">DOMAIN_SEPARATOR</text>
<ellipse class="k" cx="714" cy="845" rx="31" ry="4.75"/><text x="714" y="846.6">ERC2612InvalidSigner</text>
<ellipse class="k" cx="714" cy="859.6" rx="36.5" ry="4.75"/><text x="714" y="861.2">ERC2612ExpiredSignature</text>
<ellipse class="w" cx="714" cy="927.6" rx="12" ry="4.75"/><text x="714" y="929.2">recover</text>
<ellipse class="k" cx="818" cy="927.6" rx="18" ry="4.75"/><text x="818" y="929.2">_throwError</text>
<ellipse class="k" cx="818" cy="951.7" rx="16.5" ry="4.75"/><text x="818" y="953.3">tryRecover</text>
<ellipse class="k" cx="916" cy="951.7" rx="12.5" ry="4.75"/><text x="916" y="953.3">address</text>
<ellipse class="k" cx="916" cy="908" rx="41" ry="4.75"/><text x="916" y="909.6">ECDSAInvalidSignatureLength</text>
<ellipse class="k" cx="916" cy="922.8" rx="32.5" ry="4.75"/><text x="916" y="924.4">ECDSAInvalidSignature</text>
<ellipse class="k" cx="916" cy="937" rx="34" ry="4.75"/><text x="916" y="938.6">ECDSAInvalidSignatureS</text>
<ellipse class="g" cx="42.8" cy="938.6" rx="25.5" ry="4.75"/><text x="42.8" y="940.2">supportsInterface</text>
<ellipse class="k" cx="138.6" cy="938.6" rx="8.3" ry="4.75"/><text x="138.6" y="940.2">type</text>
<ellipse class="b" cx="42.8" cy="1023" rx="25.5" ry="4.75"/><text x="42.8" y="1024.6">supportsInterface</text>
<ellipse class="w" cx="818" cy="981.4" rx="29" ry="4.75"/><text x="818" y="983">toStringWithFallback</text>
<ellipse class="w" cx="818" cy="1003" rx="36" ry="4.75"/><text x="818" y="1004.6">toShortStringWithFallback</text>
<ellipse class="w" cx="916" cy="974" rx="13" ry="4.75"/><text x="916" y="975.6">toString</text>
<ellipse class="w" cx="916" cy="988.7" rx="33" ry="4.75"/><text x="916" y="990.3">byteLengthWithFallback</text>
<ellipse class="w" cx="916" cy="1003" rx="20" ry="4.75"/><text x="916" y="1004.6">toShortString</text>
<ellipse class="k" cx="990.5" cy="974" rx="17" ry="4.75"/><text x="990.5" y="975.6">byteLength</text>
<ellipse class="k" cx="990.5" cy="988.7" rx="21" ry="4.75"/><text x="990.5" y="990.3">StringTooLong</text>
<ellipse class="k" cx="1056" cy="974" rx="26" ry="4.75"/><text x="1056" y="975.6">InvalidShortString</text>
<ellipse class="kw" cx="1056" cy="1025.5" rx="9.5" ry="4.75"/><text x="1056" y="1027.1">unwrap</text>
<ellipse class="kw" cx="1056" cy="1040" rx="8.5" ry="4.75"/><text x="1056" y="1041.6">wrap</text>
<ellipse class="kw" cx="1056" cy="1054" rx="29" ry="4.75"/><text x="1056" y="1055.6">toStringWithFallback</text>
<ellipse class="w" cx="916" cy="1046.6" rx="21.8" ry="4.75"/><text x="916" y="1048.2">getAddressSlot</text>
<ellipse class="w" cx="916" cy="1061" rx="21.8" ry="4.75"/><text x="916" y="1062.6">getBooleanSlot</text>
<ellipse class="w" cx="916" cy="1075.6" rx="21.8" ry="4.75"/><text x="916" y="1077.2">getBytes32Slot</text>
<ellipse class="w" cx="916" cy="1090" rx="21.8" ry="4.75"/><text x="916" y="1091.6">getUint256Slot</text>
<ellipse class="k" cx="916" cy="1104.4" rx="19.5" ry="4.75"/><text x="916" y="1106">getStringSlot</text>
<ellipse class="w" cx="916" cy="1119" rx="19" ry="4.75"/><text x="916" y="1120.6">getBytesSlot</text>
<ellipse class="w" cx="714" cy="1141" rx="26.5" ry="4.75"/><text x="714" y="1142.6">_hashTypedDataV4</text>
<ellipse class="w" cx="818" cy="1141" rx="28.5" ry="4.75"/><text x="818" y="1142.6">_domainSeparatorV4</text>
<ellipse class="k" cx="916" cy="1148.5" rx="32.5" ry="4.75"/><text x="916" y="1150.1">_buildDomainSeparator</text>
<ellipse class="g" cx="818" cy="1164" rx="21.6" ry="4.75"/><text x="818" y="1165.6">&lt;Constructor&gt;</text>
<ellipse class="g" cx="916" cy="1168" rx="21" ry="4.75"/><text x="916" y="1169.6">eip712Domain</text>
<ellipse class="k" cx="990.5" cy="1141" rx="12.5" ry="4.75"/><text x="990.5" y="1142.6">address</text>
<ellipse class="k" cx="990.5" cy="1155.6" rx="22.5" ry="4.75"/><text x="990.5" y="1157.2">_EIP712Version</text>
<ellipse class="k" cx="990.5" cy="1170" rx="21" ry="4.75"/><text x="990.5" y="1171.6">_EIP712Name</text>
<ellipse class="g" cx="615" cy="1193" rx="11" ry="4.75"/><text x="615" y="1194.6">nonces</text>
<ellipse class="w" cx="615" cy="1207" rx="25.5" ry="4.75"/><text x="615" y="1208.6">_useCheckedNonce</text>
<ellipse class="k" cx="714" cy="1192.5" rx="16.5" ry="4.75"/><text x="714" y="1194.1">_useNonce</text>
<ellipse class="k" cx="714" cy="1207" rx="29.5" ry="4.75"/><text x="714" y="1208.6">InvalidAccountNonce</text>
<ellipse class="kw" cx="916" cy="1192.5" rx="36.5" ry="4.75"/><text x="916" y="1194.1">toShortStringWithFallback</text>
<ellipse class="kw" cx="916" cy="1214.6" rx="36.5" ry="4.75"/><text x="916" y="1216.2">toShortStringWithFallback</text>
<ellipse class="w" cx="43" cy="1169" rx="18" ry="4.75"/><text x="43" y="1170.6">_msgSender</text>
<ellipse class="w" cx="43" cy="1183.5" rx="15.5" ry="4.75"/><text x="43" y="1185.1">_msgData</text>
<ellipse class="w" cx="43" cy="1198" rx="29.5" ry="4.75"/><text x="43" y="1199.6">_contextSuffixLength</text>
<ellipse class="b" cx="43" cy="1251" rx="12.5" ry="4.75"/><text x="43" y="1252.6">hasRole</text>
<ellipse class="b" cx="43" cy="1266" rx="20.5" ry="4.75"/><text x="43" y="1267.6">getRoleAdmin</text>
<ellipse class="b" cx="43" cy="1280.5" rx="15" ry="4.75"/><text x="43" y="1282.1">grantRole</text>
<ellipse class="b" cx="43" cy="1295" rx="16.5" ry="4.75"/><text x="43" y="1296.6">revokeRole</text>
<ellipse class="b" cx="43" cy="1309" rx="19.5" ry="4.75"/><text x="43" y="1310.6">renounceRole</text>
<ellipse class="w" cx="916" cy="1236.8" rx="9.5" ry="4.75"/><text x="916" y="1238.4">tryAdd</text>
<ellipse class="w" cx="916" cy="1251" rx="9.5" ry="4.75"/><text x="916" y="1252.6">trySub</text>
<ellipse class="w" cx="916" cy="1266" rx="9.5" ry="4.75"/><text x="916" y="1267.6">tryMul</text>
<ellipse class="w" cx="916" cy="1280" rx="9" ry="4.75"/><text x="916" y="1281.6">tryDiv</text>
<ellipse class="w" cx="916" cy="1294.7" rx="9.5" ry="4.75"/><text x="916" y="1296.3">tryMod</text>
<ellipse class="w" cx="916" cy="1309" rx="7" ry="4.75"/><text x="916" y="1310.6">max</text>
<ellipse class="w" cx="916" cy="1324" rx="12.5" ry="4.75"/><text x="916" y="1325.6">average</text>
<ellipse class="w" cx="916" cy="1338" rx="9.5" ry="4.75"/><text x="916" y="1339.6">ceilDiv</text>
<ellipse class="w" cx="916" cy="1357.5" rx="7" ry="4.75"/><text x="916" y="1359.1">sqrt</text>
<ellipse class="w" cx="990.5" cy="1280" rx="10" ry="4.75"/><text x="990.5" y="1281.6">mulDiv</text>
<ellipse class="k" cx="990.5" cy="1294.5" rx="7" ry="4.75"/><text x="990.5" y="1296.1">min</text>
<ellipse class="k" cx="990.5" cy="1319" rx="7" ry="4.75"/><text x="990.5" y="1320.6">log2</text>
<ellipse class="k" cx="990.5" cy="1338" rx="9" ry="4.75"/><text x="990.5" y="1339.6">log256</text>
<ellipse class="k" cx="990.5" cy="1357.5" rx="8" ry="4.75"/><text x="990.5" y="1359.1">log10</text>
<ellipse class="k" cx="1056" cy="1280" rx="32" ry="4.75"/><text x="1056" y="1281.6">MathOverflowedMulDiv</text>
<ellipse class="k" cx="1056" cy="1319" rx="27" ry="4.75"/><text x="1056" y="1320.6">unsignedRoundsUp</text>
<ellipse class="kw" cx="913.7" cy="1380" rx="10.5" ry="4.75"/><text x="913.7" y="1381.6">concat</text>
<ellipse class="w" cx="913.7" cy="1402" rx="8.3" ry="4.75"/><text x="913.7" y="1403.6">max</text>
<ellipse class="w" cx="913.7" cy="1416.6" rx="7.7" ry="4.75"/><text x="913.7" y="1418.2">min</text>
<ellipse class="w" cx="913.7" cy="1431" rx="12.8" ry="4.75"/><text x="913.7" y="1432.6">average</text>
<ellipse class="k" cx="913.7" cy="1445.6" rx="7.2" ry="4.75"/><text x="913.7" y="1447.2">abs</text>
<ellipse class="w" cx="816.6" cy="1467.7" rx="21.6" ry="4.75"/><text x="816.6" y="1469.3">toStringSigned</text>
<ellipse class="w" cx="913.7" cy="1470" rx="13" ry="4.75"/><text x="913.7" y="1471.6">toString</text>
<ellipse class="k" cx="816.6" cy="1492" rx="18" ry="4.75"/><text x="816.6" y="1493.6">toHexString</text>
<ellipse class="k" cx="913.7" cy="1492" rx="39.5" ry="4.75"/><text x="913.7" y="1493.6">StringsInsufficientHexLength</text>
<ellipse class="w" cx="816.6" cy="1506.4" rx="9.7" ry="4.75"/><text x="816.6" y="1508">equal</text>
<ellipse class="w" cx="816.6" cy="1528.6" rx="35.6" ry="4.75"/><text x="816.6" y="1530.2">toEthSignedMessageHash</text>
<ellipse class="w" cx="816.6" cy="1543" rx="45.5" ry="4.75"/><text x="816.6" y="1544.6">toDataWithIntendedValidatorHash</text>
<ellipse class="k" cx="816.6" cy="1557.6" rx="25.3" ry="4.75"/><text x="816.6" y="1559.2">toTypedDataHash</text>
<ellipse class="kw" cx="913.7" cy="1528.6" rx="10.5" ry="4.75"/><text x="913.7" y="1530.2">concat</text>
</g>
</svg>
</body></html>
